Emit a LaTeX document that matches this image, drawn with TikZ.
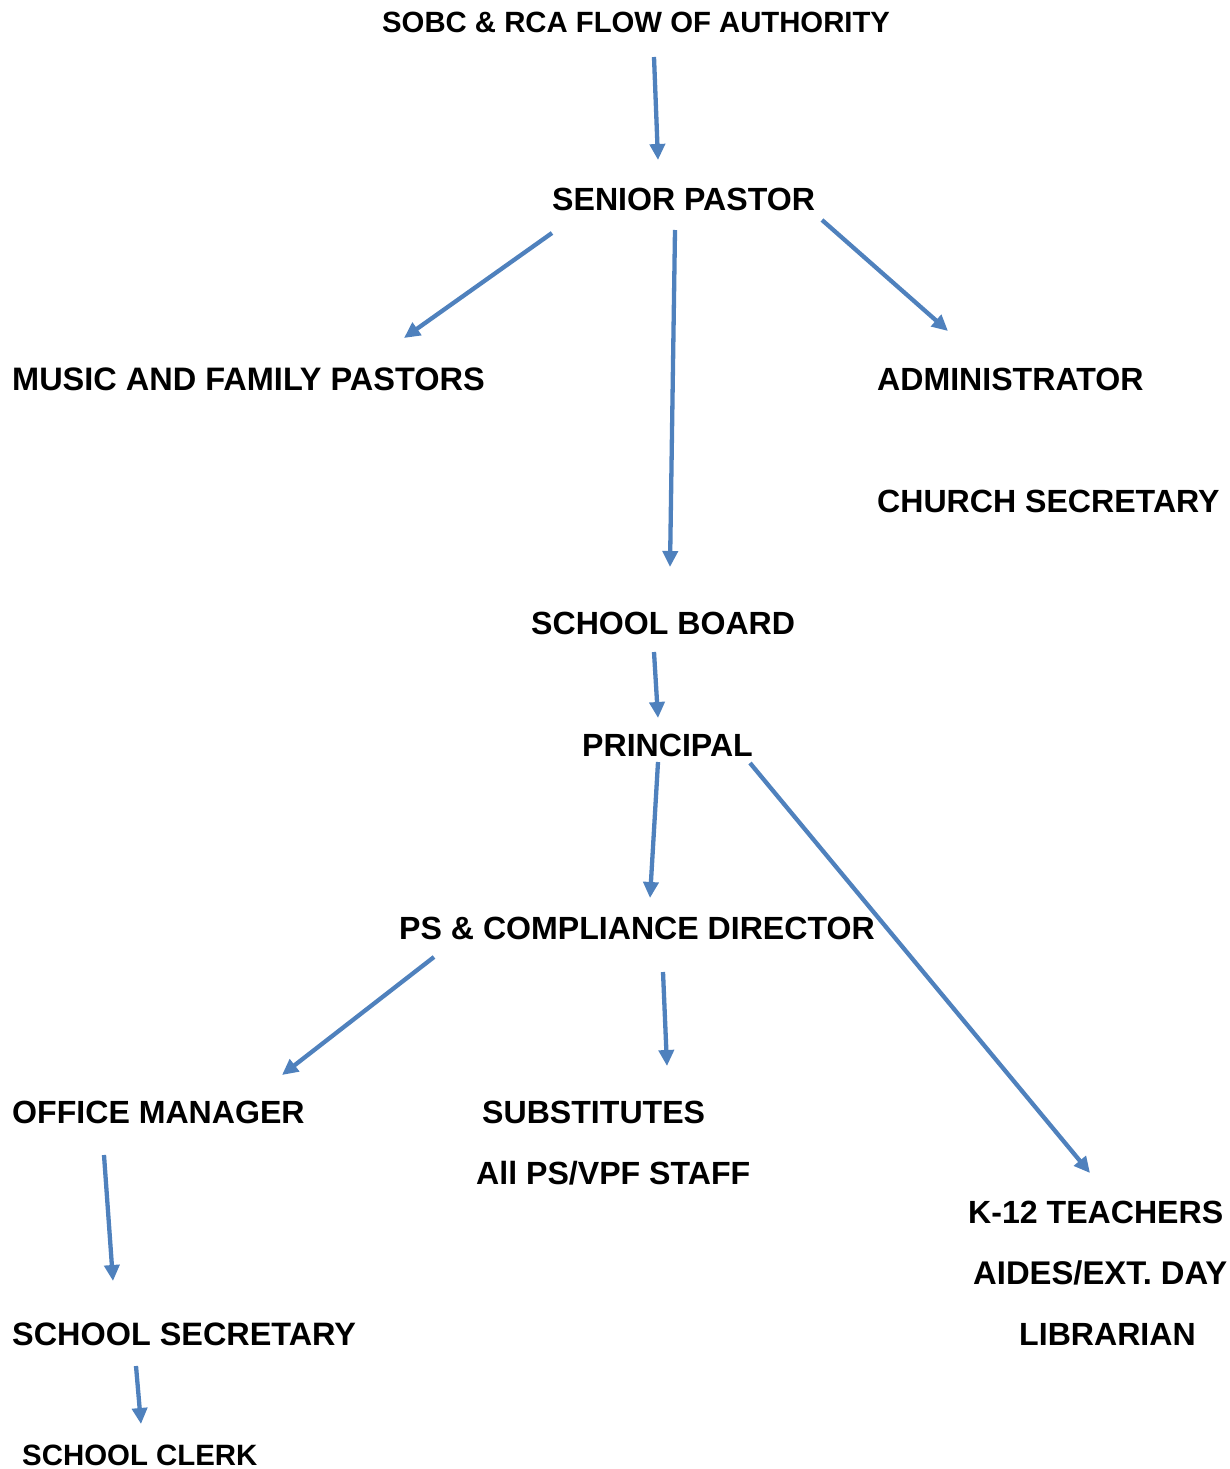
\documentclass[tikz,border=0pt]{standalone}
\usepackage{fontspec}
\setmainfont{Liberation Sans}
\usetikzlibrary{arrows.meta}
\definecolor{flowblue}{RGB}{79,129,189}
\begin{document}
\begin{tikzpicture}[x=1pt,y=-1pt,
  role/.style={anchor=base west,inner sep=0pt,font=\fontsize{32.1}{38}\selectfont\bfseries},
  heading/.style={role,font=\fontsize{29.3}{35}\selectfont\bfseries},
  flow/.style={draw=flowblue,line width=4.3pt,-{Triangle[length=16pt,width=15pt]}}]
\useasboundingbox (0,0) rectangle (1230,1469);

% positions and titles
\node[heading] (title) at (382,33)  {SOBC \& RCA FLOW OF AUTHORITY};
\node[role] (sp)  at (552,210)  {SENIOR PASTOR};
\node[role,font=\fontsize{32.5}{38}\selectfont\bfseries] (mf)  at (12,390) {MUSIC AND FAMILY PASTORS};
\node[role] (ad)  at (877,390)  {ADMINISTRATOR};
\node[role] (cs)  at (877,512)  {CHURCH SECRETARY};
\node[role] (sb)  at (531,634)  {SCHOOL BOARD};
\node[role] (pr)  at (582,756)  {PRINCIPAL};
\node[role] (pc)  at (399,939)  {PS \& COMPLIANCE DIRECTOR};
\node[role] (om)  at (12,1123)  {OFFICE MANAGER};
\node[role] (su)  at (482,1123) {SUBSTITUTES};
\node[role] (st)  at (476,1184) {All PS/VPF STAFF};
\node[role] (kt)  at (968,1223) {K-12 TEACHERS};
\node[role,font=\fontsize{32.8}{38}\selectfont\bfseries] (ai)  at (973,1284) {AIDES/EXT. DAY};
\node[role] (li)  at (1019,1345){LIBRARIAN};
\node[role,font=\fontsize{32.4}{38}\selectfont\bfseries] (ss)  at (12,1345) {SCHOOL SECRETARY};
\node[role,font=\fontsize{29.4}{35}\selectfont\bfseries] (cl)  at (22,1465) {SCHOOL CLERK};

% lines of authority
\draw[flow] ([shift={(272,24)}]title.base west) -- ([shift={(106,-50)}]sp.base west);
\draw[flow] ([shift={(0,23)}]sp.base west)      -- ([shift={(392,-52)}]mf.base west);
\draw[flow] ([shift={(123,20)}]sp.base west)    -- ([shift={(139,-67)}]sb.base west);
\draw[flow] ([shift={(270,10)}]sp.base west)    -- ([shift={(71,-59)}]ad.base west);
\draw[flow] ([shift={(123,18)}]sb.base west)    -- ([shift={(76,-38)}]pr.base west);
\draw[flow] ([shift={(76,6)}]pr.base west)      -- ([shift={(251,-41)}]pc.base west);
\draw[flow] ([shift={(168,7)}]pr.base west)     -- ([shift={(122,-50)}]kt.base west);
\draw[flow] ([shift={(35,18)}]pc.base west)     -- ([shift={(270,-48)}]om.base west);
\draw[flow] ([shift={(264,33)}]pc.base west)    -- ([shift={(185,-57)}]su.base west);
\draw[flow] ([shift={(92,32)}]om.base west)     -- ([shift={(101,-64)}]ss.base west);
\draw[flow] ([shift={(124,21)}]ss.base west)    -- ([shift={(119,-41)}]cl.base west);
\end{tikzpicture}
\end{document}
